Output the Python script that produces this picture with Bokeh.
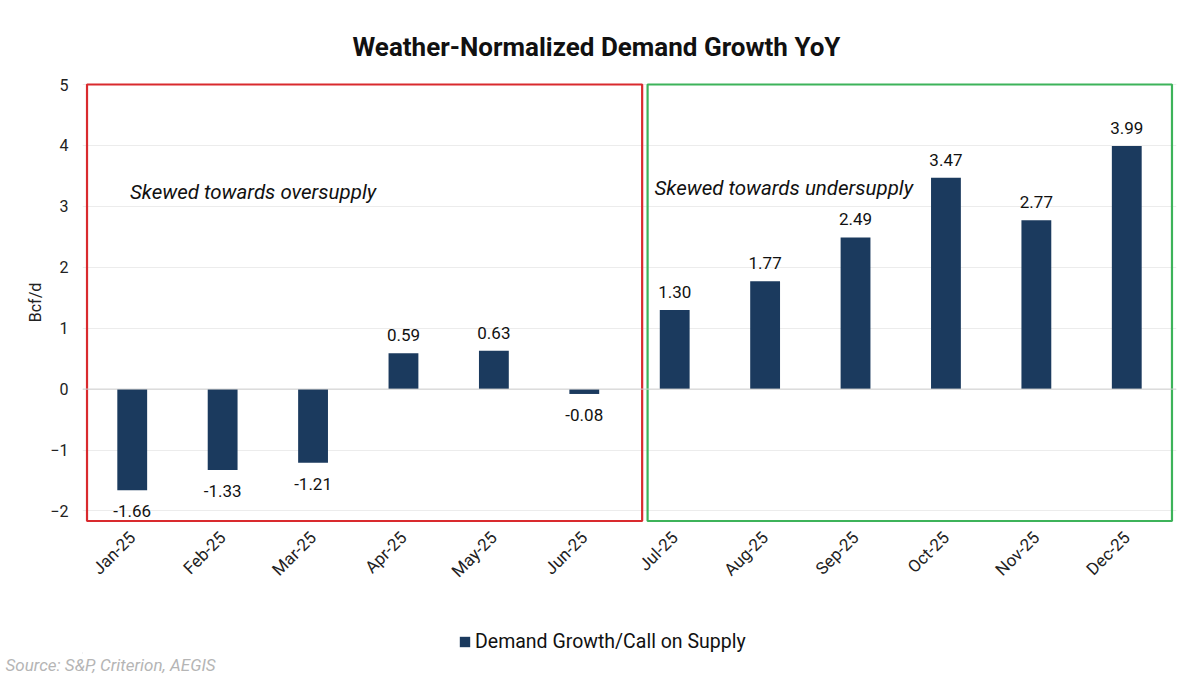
import math
from bokeh.plotting import figure
from bokeh.layouts import column
from bokeh.models import (FactorRange, Range1d, ColumnDataSource, Legend, LegendItem,
                          Label, Span, FixedTicker, Title)
from bokeh.core.properties import value
from bokeh.embed import file_html
from bokeh.resources import INLINE

# ---------------- data ----------------
months = ["Jan-25", "Feb-25", "Mar-25", "Apr-25", "May-25", "Jun-25",
          "Jul-25", "Aug-25", "Sep-25", "Oct-25", "Nov-25", "Dec-25"]
demand = [-1.66, -1.33, -1.21, 0.59, 0.63, -0.08,
          1.30, 1.77, 2.49, 3.47, 2.77, 3.99]
y_ticks = [-2, -1, 0, 1, 2, 3, 4, 5]
series_name = "Demand Growth/Call on Supply"
title_text = "Weather-Normalized Demand Growth YoY"
y_label = "Bcf/d"
source_note = "Source: S&P, Criterion, AEGIS"
zone_labels = ["Skewed towards oversupply", "Skewed towards undersupply"]

# ---------------- style ----------------
FONT = "Roboto"
BAR = "#1b3a5e"
RED = "#d92a2e"
GREEN = "#3db35a"
W = 1184
H_MAIN = 606
H_FOOT = 69

src = ColumnDataSource(dict(
    month=months,
    value=demand,
    label=[f"{v:.2f}" for v in demand],
    baseline=["bottom" if v >= 0 else "top" for v in demand],
    yoff=[-12 if v >= 0 else 15 for v in demand],
))

p = figure(
    width=W, height=H_MAIN,
    x_range=FactorRange(factors=months, range_padding=0.05, range_padding_units="absolute"),
    y_range=Range1d(-2.19, 5.033),
    output_backend="svg", toolbar_location=None,
    min_border_left=82, min_border_right=8, min_border_top=82, min_border_bottom=84,
)
p.outline_line_color = None

# title
p.title.text = title_text
p.title.text_font = FONT
p.title.text_font_size = "26px"
p.title.text_font_style = "bold"
p.title.text_color = "#111111"
p.title.align = "left"
p.title.offset = 270
p.title.standoff = 42

# grid
p.xgrid.grid_line_color = None
p.ygrid.grid_line_color = "#ececec"
p.ygrid.ticker = FixedTicker(ticks=y_ticks)
p.add_layout(Span(location=0, dimension="width", line_color="#d0d0d0", line_width=1))

# zones
p.quad(left=[0, 6.2], right=[6.14, 12.0], bottom=[-2.165, -2.165], top=[5.0, 5.0],
       fill_color=None, line_color=[RED, GREEN], line_width=2.2)

# bars
bars = p.vbar(x="month", top="value", width=0.33, source=src,
              fill_color=BAR, line_color=None)

# value labels
lbl = p.text(x="month", y="value", text="label", source=src,
             text_align="center", text_baseline="bottom", y_offset="yoff",
             text_font=value(FONT), text_font_size="17px", text_color="#111111")
lbl.glyph.text_baseline = {"field": "baseline"}

# zone annotations
p.add_layout(Label(x=0.475, y=3.23, text=zone_labels[0], text_font=FONT,
                   text_font_size="20.5px", text_font_style="italic",
                   text_baseline="middle", text_align="left", text_color="#111111"))
p.add_layout(Label(x=6.276, y=3.30, text=zone_labels[1], text_font=FONT,
                   text_font_size="20.5px", text_font_style="italic",
                   text_baseline="middle", text_align="left", text_color="#111111"))

# axes
p.yaxis.ticker = FixedTicker(ticks=y_ticks)
p.yaxis.axis_line_color = None
p.yaxis.major_tick_line_color = None
p.yaxis.minor_tick_line_color = None
p.yaxis.major_label_standoff = 8
p.yaxis.major_label_text_font = FONT
p.yaxis.major_label_text_font_size = "16px"
p.yaxis.major_label_text_color = "#222222"
p.yaxis.axis_label = y_label
p.yaxis.axis_label_text_font = FONT
p.yaxis.axis_label_text_font_size = "16px"
p.yaxis.axis_label_text_font_style = "normal"
p.yaxis.axis_label_text_color = "#222222"
p.yaxis.axis_label_standoff = 2

p.xaxis.axis_line_color = None
p.xaxis.major_tick_line_color = None
p.xaxis.minor_tick_line_color = None
p.xaxis.major_label_orientation = math.pi / 4
p.xaxis.major_label_standoff = 6
p.xaxis.major_label_text_font = FONT
p.xaxis.major_label_text_font_size = "17px"
p.xaxis.major_label_text_color = "#222222"

# ---------------- footer: legend + source ----------------
f = figure(width=W, height=H_FOOT, x_range=Range1d(0, W), y_range=Range1d(0, H_FOOT),
           output_backend="svg", toolbar_location=None,
           x_axis_type=None, y_axis_type=None, min_border=0, min_border_bottom=19)
f.outline_line_color = None
f.xgrid.grid_line_color = None
f.ygrid.grid_line_color = None
# legend key (drawn off-canvas; only its legend swatch is visible)
key = f.vbar(x=[-500], top=[1], width=1, fill_color=BAR, line_color=None)

legend = Legend(items=[LegendItem(label=series_name, renderers=[key])],
                location=(376, 0), orientation="horizontal",
                margin=0, padding=0, border_line_color=None,
                background_fill_alpha=0,
                glyph_width=13, glyph_height=13, label_standoff=4,
                label_text_font=FONT, label_text_font_size="19.5px",
                label_text_color="#111111")
f.add_layout(legend, "center")

f.add_layout(Title(text=source_note, text_font=FONT, text_font_size="17px",
                   text_font_style="italic", text_color="#b5b5b5",
                   align="left", offset=-77, standoff=0, vertical_align="middle"),
             "below")

layout = column(p, f, spacing=0)
open("out.html", "w").write(file_html(layout, INLINE))
